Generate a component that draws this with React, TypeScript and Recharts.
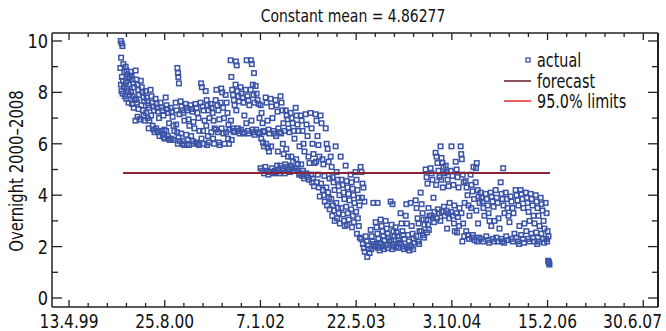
import { ScatterChart, Scatter, XAxis, YAxis, Legend } from 'recharts';

// x = days since 13.4.99, y = overnight rate
const actual: [number, number][] = [
  [270,10.0],[275,9.9],[279,9.8],[272,9.35],[284,9.1],[268,8.95],[289,8.8],[276,8.6],[282,8.45],[271,8.3],[287,8.2],[274,8.05],[280,7.95],[291,7.85],
  [296,9.0],[300,8.85],[305,8.7],[310,8.55],[298,8.4],[314,8.3],[303,8.15],[308,8.05],[316,7.9],[299,7.75],[311,7.6],[318,8.6],
  [322,8.8],[327,8.65],[331,8.5],[336,8.35],[340,8.2],[324,8.0],[333,7.85],[343,7.7],[329,7.55],[338,7.4],
  [348,8.85],[352,8.5],[357,8.3],[361,8.1],[366,7.9],[350,7.75],[355,7.6],[363,7.35],[358,7.05],[368,6.95],[347,6.9],
  [375,8.45],[380,8.2],[384,8.0],[389,7.8],[393,7.65],[378,7.5],[386,7.3],[391,7.1],[374,6.95],[395,6.9],
  [400,8.05],[405,7.8],[409,7.65],[414,7.5],[418,7.4],[403,7.2],[411,7.0],[420,6.9],[416,6.6],
  [426,8.1],[431,7.85],[435,7.6],[440,7.45],[444,7.3],[429,7.1],[437,6.7],[442,6.55],[447,6.45],
  [452,7.75],[457,7.55],[461,7.4],[466,7.25],[470,7.0],[455,6.6],[463,6.5],[468,6.45],[473,6.3],
  [478,7.6],[483,7.4],[488,7.3],[493,7.1],[498,6.55],[481,6.5],[490,6.35],[496,6.25],[500,6.2],
  [505,7.8],[510,7.5],[514,7.35],[519,7.2],[523,6.8],[508,6.5],[516,6.3],[521,6.2],[526,6.15],
  [531,7.4],[536,7.25],[541,7.05],[546,6.7],[550,6.5],[534,6.2],[544,6.15],
  [566,8.95],[569,8.75],[571,8.6],[574,8.35],[557,7.6],[562,7.3],[577,7.15],[560,6.75],[565,6.45],[572,6.25],[578,6.1],[568,6.0],
  [583,7.65],[588,7.45],[593,7.3],[598,7.2],[603,6.9],[586,6.4],[596,6.1],[591,6.0],[601,5.95],
  [609,7.55],[614,7.4],[619,7.3],[624,6.95],[629,6.7],[612,6.35],[621,6.15],[617,6.0],[627,5.95],
  [635,7.5],[640,7.35],[645,7.25],[650,6.85],[655,6.6],[638,6.3],[647,6.1],[652,6.0],
  [661,7.55],[666,7.4],[671,7.2],[676,7.0],[681,6.5],[664,6.05],[673,6.0],[679,5.95],
  [690,8.35],[694,8.2],[687,7.6],[698,7.45],[703,7.3],[708,6.9],[700,6.5],[692,6.2],[705,6.0],
  [714,8.05],[719,7.7],[724,7.5],[729,7.3],[734,7.0],[717,6.7],[726,6.3],[731,6.05],[721,5.95],
  [740,7.55],[745,7.4],[750,7.2],[755,6.9],[760,6.6],[743,6.45],[752,6.2],[758,6.0],
  [770,8.1],[766,7.7],[775,7.5],[780,7.3],[785,6.95],[768,6.55],[778,6.45],[783,6.05],[787,5.95],
  [795,8.15],[800,8.0],[792,7.6],[805,7.4],[810,7.0],[797,6.6],[807,6.4],[812,6.0],
  [818,7.9],[823,7.6],[828,7.2],[833,6.75],[838,6.55],[821,6.45],[831,6.2],[836,6.0],
  [844,9.25],[848,8.6],[852,8.1],[857,7.9],[861,7.7],[865,7.5],[846,6.9],[855,6.6],[859,6.5],[863,6.45],[850,6.15],
  [872,9.2],[876,9.05],[870,8.3],[880,8.05],[885,7.85],[889,7.65],[874,7.3],[882,6.6],[887,6.5],[891,6.4],
  [896,8.2],[901,7.95],[906,7.8],[911,7.6],[916,7.1],[899,6.55],[908,6.45],[914,6.4],
  [928,9.25],[923,8.1],[932,7.85],[937,7.7],[942,7.5],[926,6.8],[935,6.5],[940,6.4],
  [950,9.25],[955,9.1],[966,8.75],[960,8.3],[949,8.1],[964,7.9],[969,7.6],[953,6.9],[958,6.55],[962,6.45],[970,6.35],
  [975,8.25],[980,7.95],[985,7.7],[990,7.55],[995,7.0],[978,6.55],[987,6.45],[993,6.4],
  [1001,7.5],[1006,7.2],[1011,6.8],[1016,6.5],[1021,6.45],[1004,6.2],[1013,6.05],[1018,5.9],[1000,5.05],[1009,4.95],[1019,4.85],
  [1027,7.8],[1032,7.6],[1037,6.9],[1042,6.55],[1047,6.4],[1030,6.0],[1039,5.85],[1045,5.7],[1026,5.1],[1034,4.95],[1041,4.8],[1048,4.9],
  [1053,7.75],[1058,7.45],[1063,7.0],[1068,6.5],[1073,6.4],[1056,5.9],[1061,5.05],[1066,4.9],[1071,4.85],[1075,4.95],
  [1079,7.7],[1084,7.5],[1089,7.25],[1094,6.6],[1099,6.45],[1082,6.3],[1091,5.7],[1087,5.15],[1096,5.0],[1080,4.9],[1100,4.85],
  [1105,7.85],[1110,7.6],[1115,7.3],[1120,6.8],[1125,6.5],[1108,6.4],[1117,6.0],[1122,5.6],[1104,5.15],[1113,5.05],[1119,4.95],[1127,4.85],
  [1132,7.3],[1137,7.1],[1142,6.95],[1147,6.6],[1152,6.45],[1135,5.8],[1144,5.5],[1130,5.2],[1140,5.1],[1149,5.0],[1154,4.9],
  [1158,7.2],[1163,7.0],[1168,6.8],[1173,6.5],[1178,6.2],[1161,5.5],[1170,5.3],[1157,5.15],[1166,5.05],[1176,4.95],
  [1184,7.4],[1189,7.1],[1194,6.75],[1199,6.5],[1204,5.9],[1187,5.4],[1196,5.2],[1183,5.05],[1192,4.95],[1202,4.8],
  [1210,7.1],[1215,6.9],[1220,6.5],[1225,6.0],[1230,5.7],[1213,5.2],[1222,4.95],[1208,4.85],[1218,4.75],[1228,4.65],
  [1236,7.15],[1241,6.75],[1246,6.3],[1251,5.5],[1256,5.25],[1239,4.85],[1248,4.7],[1254,4.6],
  [1262,7.2],[1267,6.6],[1272,6.0],[1277,5.6],[1282,5.25],[1265,4.8],[1274,4.65],[1269,4.5],[1280,4.35],
  [1288,7.15],[1293,6.9],[1298,6.3],[1303,5.95],[1308,5.5],[1291,5.3],[1300,4.8],[1295,4.5],[1305,4.3],[1310,3.95],
  [1314,7.1],[1319,6.8],[1324,5.4],[1329,5.2],[1334,4.75],[1317,4.45],[1326,4.2],[1331,4.0],[1336,3.75],
  [1341,6.6],[1346,6.0],[1351,5.8],[1356,5.3],[1361,4.65],[1344,4.3],[1353,4.1],[1358,3.9],[1348,3.6],[1362,3.45],
  [1367,5.5],[1372,5.1],[1377,4.7],[1382,4.5],[1387,4.2],[1370,3.85],[1379,3.6],[1384,3.4],[1375,3.2],[1388,3.0],
  [1393,5.9],[1398,4.9],[1403,4.6],[1408,4.35],[1413,4.0],[1396,3.7],[1405,3.5],[1410,3.3],[1400,3.1],[1415,2.9],
  [1419,5.5],[1424,4.6],[1429,4.4],[1434,4.1],[1439,3.85],[1422,3.5],[1431,3.25],[1436,3.0],[1441,2.8],
  [1445,5.15],[1450,4.55],[1455,4.3],[1460,4.05],[1465,3.8],[1448,3.55],[1457,3.3],[1462,3.05],[1452,2.85],
  [1471,4.8],[1476,4.5],[1481,4.25],[1486,4.0],[1491,3.7],[1474,3.45],[1483,3.2],[1488,2.95],[1478,2.75],
  [1497,4.9],[1502,4.6],[1507,4.2],[1512,3.9],[1517,3.6],[1500,3.35],[1509,3.1],[1514,2.8],[1504,2.5],[1519,2.35],
  [1523,5.1],[1528,4.9],[1533,4.45],[1538,4.3],[1530,3.9],[1543,3.75],[1526,2.3],[1535,2.1],[1540,1.95],[1545,1.8],
  [1550,2.4],[1555,2.2],[1560,2.05],[1565,1.9],[1570,1.75],[1558,1.6],
  [1590,3.7],[1576,2.65],[1581,2.4],[1586,2.2],[1592,2.1],[1596,2.0],[1579,1.9],
  [1612,3.7],[1602,2.95],[1607,2.75],[1611,2.5],[1616,2.3],[1620,2.15],[1604,2.05],[1614,1.95],[1623,1.85],
  [1628,3.05],[1633,2.8],[1638,2.6],[1643,2.4],[1648,2.25],[1631,2.1],[1640,2.0],[1646,1.9],
  [1654,3.0],[1659,2.7],[1664,2.5],[1669,2.35],[1674,2.2],[1657,2.05],[1666,1.95],
  [1680,3.75],[1690,3.65],[1685,2.85],[1695,2.6],[1700,2.4],[1683,2.25],[1692,2.1],[1698,2.0],[1688,1.9],
  [1706,2.75],[1711,2.55],[1716,2.4],[1721,2.25],[1726,2.15],[1709,2.0],[1719,1.95],
  [1732,3.3],[1737,2.9],[1742,2.6],[1747,2.45],[1752,2.3],[1735,2.1],[1744,2.0],[1750,1.9],
  [1762,3.65],[1759,3.2],[1765,2.9],[1770,2.45],[1775,2.2],[1780,2.05],[1768,1.95],[1778,1.85],
  [1785,3.7],[1790,2.8],[1795,2.5],[1800,2.3],[1805,2.15],[1788,2.0],[1798,1.9],
  [1811,3.8],[1816,3.5],[1821,3.1],[1826,2.9],[1831,2.6],[1814,2.4],[1823,2.2],[1829,2.1],
  [1837,4.1],[1842,3.65],[1847,3.3],[1852,3.05],[1857,2.85],[1840,2.6],[1849,2.45],[1855,2.35],
  [1863,5.0],[1868,4.7],[1873,4.45],[1878,3.5],[1883,3.2],[1866,3.05],[1875,2.85],[1880,2.65],[1870,2.55],
  [1889,5.05],[1894,4.85],[1899,4.6],[1904,3.9],[1909,3.35],[1892,3.2],[1901,3.1],[1907,2.95],
  [1915,5.65],[1920,5.5],[1925,5.25],[1930,4.95],[1935,4.7],[1918,4.4],[1927,3.45],[1933,3.3],[1922,3.1],
  [1941,5.9],[1946,5.45],[1951,5.25],[1956,5.1],[1961,4.85],[1944,4.6],[1953,4.3],[1959,3.55],[1948,3.35],[1963,3.2],[1940,3.0],
  [1968,5.15],[1973,4.9],[1978,4.6],[1983,4.35],[1988,3.7],[1971,3.4],[1980,3.3],[1986,3.1],[1975,2.7],
  [1998,5.9],[1994,4.95],[2003,4.75],[2008,4.4],[2013,3.6],[1996,3.35],[2005,3.2],[2011,2.9],[2015,2.6],
  [2020,5.3],[2025,5.0],[2030,4.7],[2035,4.3],[2040,3.5],[2023,3.3],[2032,3.15],[2038,2.8],[2027,2.55],
  [2046,5.9],[2049,5.6],[2052,5.4],[2057,4.8],[2062,4.5],[2067,3.7],[2050,3.3],[2059,2.9],[2064,2.4],[2055,2.2],
  [2072,4.55],[2077,4.3],[2082,4.0],[2087,3.6],[2092,3.2],[2075,2.6],[2084,2.45],[2090,2.3],
  [2113,5.1],[2098,4.8],[2103,4.4],[2108,4.15],[2116,3.85],[2101,3.5],[2110,2.45],[2105,2.35],[2119,2.25],
  [2130,5.25],[2126,5.05],[2124,4.5],[2135,4.2],[2140,3.95],[2145,3.7],[2128,3.4],[2137,2.9],[2142,2.35],[2132,2.2],
  [2150,4.1],[2155,3.9],[2160,3.75],[2165,3.5],[2170,3.2],[2153,2.3],[2163,2.2],
  [2177,4.05],[2182,3.85],[2187,3.6],[2192,3.3],[2197,3.0],[2180,2.4],[2189,2.25],[2195,2.15],
  [2203,4.1],[2208,3.95],[2213,3.75],[2218,3.55],[2223,3.0],[2206,2.8],[2215,2.3],[2221,2.2],
  [2229,4.2],[2234,3.9],[2239,3.7],[2244,3.1],[2249,2.7],[2232,2.35],[2241,2.2],
  [2268,5.05],[2255,4.5],[2260,4.05],[2265,3.85],[2270,3.6],[2275,3.3],[2258,2.3],[2263,2.2],[2273,2.15],
  [2281,4.1],[2286,3.85],[2291,3.5],[2296,3.2],[2301,2.95],[2284,2.4],[2293,2.25],
  [2307,3.95],[2312,3.75],[2317,3.5],[2322,3.3],[2327,2.5],[2310,2.3],[2319,2.2],
  [2333,4.2],[2338,4.0],[2343,3.8],[2348,3.6],[2353,2.8],[2336,2.35],[2345,2.2],[2351,2.1],
  [2359,4.2],[2364,4.05],[2369,3.85],[2374,3.5],[2379,2.9],[2362,2.45],[2371,2.3],[2377,2.15],
  [2386,4.1],[2391,3.9],[2396,3.7],[2401,3.35],[2406,3.0],[2389,2.6],[2398,2.3],[2404,2.2],
  [2412,4.05],[2417,3.85],[2422,3.6],[2427,3.2],[2432,2.9],[2415,2.5],[2424,2.35],[2430,2.2],
  [2438,4.0],[2443,3.75],[2448,3.5],[2453,3.2],[2458,2.8],[2441,2.55],[2450,2.35],[2456,2.2],[2446,2.1],
  [2464,3.9],[2469,3.65],[2474,3.4],[2479,3.0],[2484,2.7],[2467,2.5],[2476,2.3],[2482,2.15],
  [2490,3.7],[2495,3.3],[2500,2.6],[2505,2.4],[2493,2.3],[2498,2.2],[2503,1.45],[2506,1.4],[2508,1.35],[2510,1.3],
];

const MEAN = 4.86277;
const forecastDays = [282, 2513];

const xMajorTicks = [0, 500, 1000, 1500, 2000, 2500, 3000];
const xTickLabels = ['13.4.99', '25.8.00', '7.1.02', '22.5.03', '3.10.04', '15.2.06', '30.6.07'];
const xTicks = Array.from({ length: 31 }, (_, i) => i * 100);
const yTicks = [0, 1, 2, 3, 4, 5, 6, 7, 8, 9, 10];
const yTickLabels = ['0', '', '2', '', '4', '', '6', '', '8', '', '10'];

const FONT = "'Liberation Sans Narrow', 'DejaVu Sans Condensed', 'Arial Narrow', sans-serif";
const BLUE = '#3b54a8';
const AXIS = '#222';

const W = 666;
const H = 331;
const PLOT_LEFT = 52;
const PLOT_RIGHT = 658;
const PLOT_TOP = 33;
const PLOT_BOTTOM = 307;

const actualData = actual.map(([day, value]) => ({ day, value }));
const forecastData = forecastDays.map((day) => ({ day, value: MEAN }));

const Square = (props: any) => {
  const { cx, cy } = props;
  if (cx == null || cy == null) return <g />;
  return <rect x={cx - 2.25} y={cy - 2.25} width={4.5} height={4.5} fill="none" stroke={BLUE} strokeWidth={1.5} />;
};

const BottomTick = (props: any) => {
  const { x, payload } = props;
  const i = xMajorTicks.indexOf(payload.value);
  const major = i >= 0;
  const last = i === xMajorTicks.length - 1;
  // the last label is right-aligned so it stays inside the picture
  const lx = last ? W - 4 : x;
  return (
    <g>
      <line x1={x} x2={x} y1={PLOT_BOTTOM} y2={PLOT_BOTTOM - (major ? 7 : 4)} stroke={AXIS} strokeWidth={1.3} />
      {major && (
        <g transform={`translate(${lx},${PLOT_BOTTOM + 21}) scale(0.88,1)`}>
          <text x={0} y={0} textAnchor={last ? 'end' : 'middle'} fontSize={19.5} fontFamily={FONT} fill="#111">
            {xTickLabels[i]}
          </text>
        </g>
      )}
    </g>
  );
};

const TopTick = (props: any) => {
  const { x, payload } = props;
  const major = payload.value % 500 === 0;
  return <line x1={x} x2={x} y1={PLOT_TOP} y2={PLOT_TOP + (major ? 7 : 4)} stroke={AXIS} strokeWidth={1.3} />;
};

const LeftTick = (props: any) => {
  const { y, payload } = props;
  const i = yTicks.indexOf(payload.value);
  const label = yTickLabels[i];
  return (
    <g>
      <line x1={PLOT_LEFT} x2={PLOT_LEFT + (label ? 10 : 6)} y1={y} y2={y} stroke={AXIS} strokeWidth={1.3} />
      {label && (
        <g transform={`translate(${PLOT_LEFT - 4},${y + 7}) scale(0.9,1)`}>
          <text x={0} y={0} textAnchor="end" fontSize={20} fontFamily={FONT} fill="#111">
            {label}
          </text>
        </g>
      )}
    </g>
  );
};

const RightTick = (props: any) => {
  const { y, payload } = props;
  const major = payload.value % 2 === 0;
  return <line x1={PLOT_RIGHT} x2={PLOT_RIGHT - (major ? 10 : 6)} y1={y} y2={y} stroke={AXIS} strokeWidth={1.3} />;
};

const narrow = { display: 'inline-block', transform: 'scaleX(0.84)', transformOrigin: 'left center', whiteSpace: 'nowrap' as const };

const LegendBox = () => (
  <div style={{ fontFamily: FONT, fontSize: 19, color: '#111', lineHeight: '20.5px' }}>
    <div style={{ display: 'flex', alignItems: 'center', height: 20.5 }}>
      <svg width={33} height={20}>
        <rect x={22} y={8} width={4} height={4} fill="none" stroke={BLUE} strokeWidth={1.3} />
      </svg>
      <span style={narrow}>actual</span>
    </div>
    <div style={{ display: 'flex', alignItems: 'center', height: 20.5 }}>
      <svg width={33} height={20}>
        <line x1={0} x2={27} y1={10} y2={10} stroke="#6e1526" strokeWidth={1.5} />
      </svg>
      <span style={narrow}>forecast</span>
    </div>
    <div style={{ display: 'flex', alignItems: 'center', height: 20.5 }}>
      <svg width={33} height={20}>
        <line x1={0} x2={27} y1={10} y2={10} stroke="#e8262e" strokeWidth={1.5} />
      </svg>
      <span style={narrow}>95.0% limits</span>
    </div>
  </div>
);

export default function App() {
  return (
    <div style={{ position: 'absolute', left: 0, top: 0, width: W, height: H, background: '#fff' }}>
      <div
        style={{
          position: 'absolute', left: 353, top: 7, transform: 'translateX(-50%) scaleX(0.86)',
          fontFamily: FONT, fontSize: 18, lineHeight: '18px', color: '#111', whiteSpace: 'nowrap',
        }}
      >
        Constant mean = 4.86277
      </div>
      <div
        style={{
          position: 'absolute', left: 15.5, top: 171, transform: 'translate(-50%, -50%) rotate(-90deg) scaleX(0.87)',
          whiteSpace: 'nowrap', fontFamily: FONT, fontSize: 19, lineHeight: '19px', color: '#111',
        }}
      >
        Overnight 2000–2008
      </div>
      <ScatterChart width={W} height={H} margin={{ top: PLOT_TOP - 1, right: W - PLOT_RIGHT - 1, bottom: 0, left: 8 }}>
        <XAxis
          type="number" dataKey="day" domain={[-89, 3077]} ticks={xTicks} interval={0}
          height={H - PLOT_BOTTOM} tickLine={false} tick={BottomTick}
          axisLine={{ stroke: AXIS, strokeWidth: 1.5 }} allowDataOverflow
        />
        <XAxis
          xAxisId="top" orientation="top" type="number" dataKey="day" domain={[-89, 3077]} ticks={xTicks}
          interval={0} height={1} tickLine={false} tick={TopTick}
          axisLine={{ stroke: AXIS, strokeWidth: 1.5 }} allowDataOverflow
        />
        <YAxis
          type="number" dataKey="value" domain={[-0.35, 10.31]} ticks={yTicks} interval={0}
          width={PLOT_LEFT - 8} tickLine={false} tick={LeftTick}
          axisLine={{ stroke: AXIS, strokeWidth: 1.5 }} allowDataOverflow
        />
        <YAxis
          yAxisId="right" orientation="right" type="number" dataKey="value" domain={[-0.35, 10.31]}
          ticks={yTicks} interval={0} width={1} tickLine={false} tick={RightTick}
          axisLine={{ stroke: AXIS, strokeWidth: 2 }} allowDataOverflow
        />
        <Legend
          layout="vertical" align="center" verticalAlign="middle"
          wrapperStyle={{ top: 50, left: 504, width: 150 }}
          content={() => <LegendBox />}
        />
        <Scatter name="actual" data={actualData} shape={Square} isAnimationActive={false} />
        <Scatter
          name="forecast" data={forecastData} line={{ stroke: '#8a2438', strokeWidth: 2 }}
          shape={() => <g />} isAnimationActive={false}
        />
      </ScatterChart>
    </div>
  );
}
